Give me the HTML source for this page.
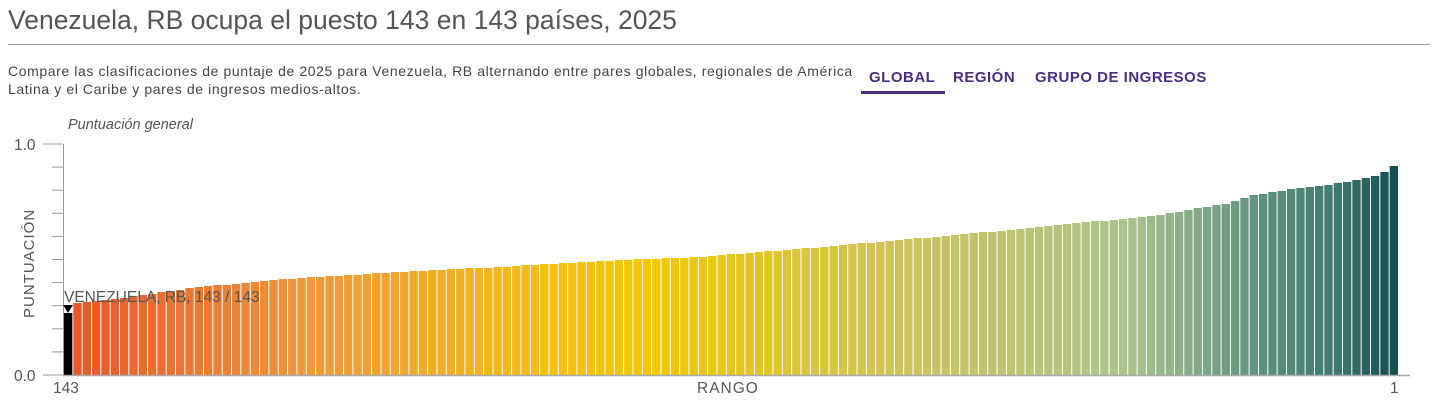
<!DOCTYPE html><html><head><meta charset="utf-8"><style>
body{margin:0;width:1436px;height:404px;background:#fff;font-family:"Liberation Sans",sans-serif;position:relative;overflow:hidden;color:#555}
.a{position:absolute;white-space:nowrap}
</style></head><body>
<div class="a" style="left:8px;top:5px;font-size:26.5px;color:#555">Venezuela, RB ocupa el puesto 143 en 143 países, 2025</div>
<div class="a" style="left:8px;top:44px;width:1422px;height:1px;background:#999"></div>
<div class="a" style="left:8px;top:62px;font-size:14px;line-height:18px;color:#444;white-space:normal;width:862px;letter-spacing:0.6px">Compare las clasificaciones de puntaje de 2025 para Venezuela, RB alternando entre pares globales, regionales de América Latina y el Caribe y pares de ingresos medios-altos.</div>
<div class="a" style="left:869px;top:69px;font-size:15px;font-weight:bold;color:#4b2e83;letter-spacing:0.5px">GLOBAL</div>
<div class="a" style="left:861px;top:91px;width:84px;height:3px;background:#4b2e83"></div>
<div class="a" style="left:953px;top:69px;font-size:15px;font-weight:bold;color:#4b2e83;letter-spacing:0.5px">REGIÓN</div>
<div class="a" style="left:1035px;top:69px;font-size:15px;font-weight:bold;color:#4b2e83;letter-spacing:0.5px">GRUPO DE INGRESOS</div>
<div class="a" style="left:68px;top:117px;font-size:14.5px;font-style:italic;color:#555">Puntuación general</div>
<svg class="a" style="left:0;top:0" width="1436" height="404">
<g id="bars"></g>
<line x1="63.5" y1="144" x2="63.5" y2="375" stroke="#999"/>
<line x1="63" y1="375.5" x2="1410" y2="375.5" stroke="#aaa" stroke-width="1.5"/>
<g id="ticks" stroke="#999"></g>
<text x="14" y="150" font-size="15.5" fill="#555">1.0</text>
<text x="14" y="381" font-size="15.5" fill="#555">0.0</text>
<text x="53" y="393" font-size="15.5" fill="#555">143</text>
<text x="697" y="393" font-size="15.5" fill="#555" letter-spacing="1">RANGO</text>
<text x="1390" y="393" font-size="15.5" fill="#555">1</text>
<text transform="translate(34,318) rotate(-90)" font-size="15" fill="#555" letter-spacing="1">PUNTUACIÓN</text>
<text x="64" y="302" font-size="15.5" fill="#555">VENEZUELA, RB, 143 / 143</text>
<path d="M63,305 L73,305 L68,313 Z" fill="#000"/>
</svg>
<script>
var pts=[[68,314],[75,303],[100,301],[200,287],[300,278],[400,272],[500,267],[600,261],[700,257],[800,249],[900,240],[1000,231],[1100,221],[1160,215],[1200,208],[1230,203],[1250,196],[1300,188],[1350,182],[1380,175],[1395,166]];
var cs=[[68,[232,85,42]],[300,[238,150,60]],[550,[243,190,20]],[650,[242,200,0]],[900,[205,195,90]],[1130,[170,195,140]],[1250,[100,150,130]],[1340,[60,120,110]],[1395,[18,78,82]]];
function lerp(a,x){for(var i=1;i<a.length;i++)if(x<=a[i][0]){var t=(x-a[i-1][0])/(a[i][0]-a[i-1][0]);return [a[i-1],a[i],t];}var n=a.length;return [a[n-2],a[n-1],1];}
var g=document.getElementById('bars'),s='',w=(1399-64)/143;
for(var i=0;i<143;i++){var x0=64+i*w,cx=x0+w/2;var r=lerp(pts,cx);var y=Math.round(r[0][1]+(r[1][1]-r[0][1])*r[2]);
var c=lerp(cs,cx);var col=i==0?'#000':'rgb('+[0,1,2].map(function(k){return Math.round(c[0][1][k]+(c[1][1][k]-c[0][1][k])*c[2])}).join(',')+')';
s+='<rect x="'+x0.toFixed(2)+'" y="'+y+'" width="'+(w-1).toFixed(2)+'" height="'+(375-y)+'" fill="'+col+'"/>';}
g.innerHTML=s;
var t='';for(var j=0;j<=10;j++){var yy=375-j*23.1;t+='<line x1="'+(j%10==0?43:52)+'" x2="63" y1="'+yy+'" y2="'+yy+'"/>';}
document.getElementById('ticks').innerHTML=t;
</script>
</body></html>
